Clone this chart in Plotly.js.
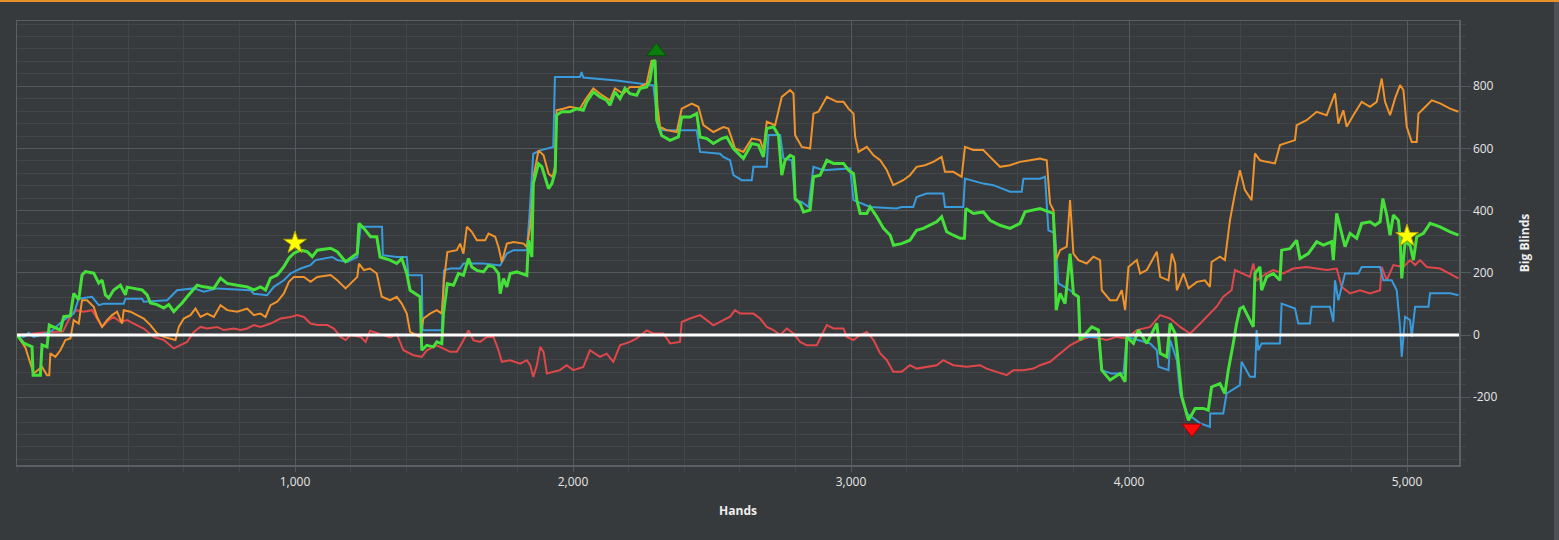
<!DOCTYPE html>
<html>
<head>
<meta charset="utf-8">
<script src="https://cdn.plot.ly/plotly-3.0.1.min.js"></script>
<style>
html,body{margin:0;padding:0;background:#363a3d;}
#chart{width:1559px;height:540px;}
</style>
</head>
<body>
<div id="chart"></div>
<script>
// ---- data (hands, big blinds) ----
const greenX = [0,24,54,58,84,90,108,116,156,168,192,204,222,234,246,276,294,306,318,330,348,372,390,396,420,450,468,480,504,528,546,564,576,594,612,636,648,672,708,732,756,792,828,852,876,894,912,936,960,978,996,1020,1044,1062,1080,1128,1152,1182,1224,1230,1248,1272,
1294,1306,1342,1366,1384,1402,1414,1450,1456,1474,1498,1510,1528,1534,1548,1570,1588,1606,1624,1636,1654,1678,1696,1714,1732,1738,1750,1762,1774,1798,1834,1840,1852,1857,1870,1876,1888,1900,1912,1924,1936,1941,1959,1989,2013,2037,2049,2073,2097,2121,2133,2151,2169,2187,2205,2229,2241,2265,2277,2287,2295,2301,2319,2349,2379,2391,2421,2445,2457,2481,2505,2535,
2553,2577,2613,2643,2667,2685,2697,2721,2739,2751,2763,2781,2793,2799,2817,2829,2853,2865,2889,2913,2937,2973,2991,3009,3021,3033,3057,3069,3093,3117,3141,3153,3182,3212,3236,3260,3284,3308,3326,3344,3368,3392,3408,3413,3440,3476,3500,3536,3572,3608,3626,3656,3680,
3728,3734,3738,3752,3770,3788,3800,3818,3824,3866,3890,3902,3932,3968,3986,3992,4016,4034,4064,4100,4112,4136,4148,4166,4178,4190,4214,4238,4268,4285,4297,4327,4345,4357,4375,4387,4399,4411,4423,4447,4453,4471,4477,4495,4519,4543,4549,4579,4603,4615,4645,4675,4699,4729,4735,4747,4765,4777,4795,4819,4837,4867,4885,4903,4913,4927,4939,4951,4969,4975,4981,4993,5011,5023,5035,5059,5083,5119,5155,5185];
const greenY = [0,-26,-38,-129,-129,-32,-38,32,16,59,62,134,113,193,204,199,167,177,129,119,145,160,129,154,150,145,129,103,98,87,98,75,87,103,123,150,160,155,150,183,166,160,155,145,155,145,183,193,220,247,263,273,268,252,273,279,268,236,263,359,343,316,
316,251,241,230,246,198,144,123,-49,-33,-38,-22,-28,69,165,160,198,192,246,219,208,203,224,219,198,133,182,155,198,203,192,305,251,487,530,551,541,508,471,487,525,707,718,718,728,723,750,782,766,755,739,782,760,793,776,771,793,798,819,878,884,691,642,626,637,701,701,712,637,632,616,632,
637,600,568,616,611,573,664,670,643,514,562,578,573,439,423,396,402,509,514,562,552,552,530,519,434,391,391,412,380,343,321,289,294,305,337,343,353,364,380,332,321,311,311,407,391,396,369,353,343,359,396,402,407,
391,252,80,134,101,262,134,123,-16,26,16,-113,-145,-124,-150,-6,-27,16,-27,37,-59,-70,37,5,-92,-199,-274,-236,-236,-242,-167,-156,-188,-113,-27,37,85,91,69,26,198,219,144,187,198,176,273,278,305,246,262,300,289,300,241,391,327,284,327,311,359,364,353,364,439,386,321,386,369,316,182,300,289,241,316,327,359,348,332,321];

const blueX = [0,24,42,60,84,120,168,204,222,270,294,312,384,390,450,456,540,576,636,672,720,840,852,900,924,960,984,1020,1056,1074,1134,1152,1188,1224,1236,1272,
1313,1316,1366,1402,1408,1456,1459,1528,1536,1558,1594,1606,1678,1738,1762,1786,1834,1843,1857,1882,1929,1935,2025,2031,2037,2157,2229,2289,2307,2325,2445,2457,2529,2541,2565,
2577,2607,2643,2649,2697,2703,2745,2757,2787,2799,2823,2847,2865,2901,2997,3009,3069,3164,3182,3224,3236,3272,3332,3338,3404,3410,3476,3512,3572,3614,3620,3680,
3698,3710,3734,3746,3788,3818,3824,3890,3902,3938,3980,3992,4076,4100,4106,4142,4148,4172,4184,4208,4256,4291,4292,4339,4351,4399,4405,4435,4453,4459,4465,4477,4543,4549,4597,4609,4651,4657,4723,4735,4741,4753,4777,4825,4837,4903,4915,4945,4963,4975,4981,4993,5011,5017,5029,5077,5083,5155,5185];
const blueY = [0,-6,7,-6,0,10,48,69,117,123,96,101,101,117,117,107,112,144,150,139,150,144,133,128,155,176,198,214,225,241,251,241,235,251,348,348,
348,257,251,251,192,192,15,15,208,214,214,230,230,224,262,273,273,380,583,594,605,830,830,846,828,819,809,803,669,659,659,589,583,573,562,
514,498,498,541,541,643,643,568,562,434,428,412,541,530,536,434,412,407,412,412,444,455,455,412,412,503,487,482,461,461,503,503,
509,337,327,166,144,123,-6,-6,-113,-124,-124,-6,-27,-49,-102,-113,-16,-81,-188,-252,-284,-295,-252,-252,-188,-161,-86,-134,-134,16,-49,-27,-27,101,85,37,37,91,91,43,176,112,198,198,219,219,176,176,144,26,-70,59,48,-6,91,91,134,134,128];

const orangeX = [0,30,60,90,108,116,120,138,156,174,192,204,222,234,252,276,288,306,324,342,360,378,384,408,432,456,480,504,528,552,570,582,600,624,642,660,684,708,732,756,792,828,852,876,894,912,936,960,978,996,1032,1056,1080,1128,1152,1182,1200,1224,1230,1248,
1270,1294,1312,1342,1366,1384,1402,1414,1450,1462,1486,1510,1528,1536,1548,1582,1594,1606,1618,1636,1654,1684,1696,1720,1732,1744,1762,1786,1822,1834,1846,1860,1876,1894,1912,1927,1935,1941,1965,1989,2025,2043,2073,2097,2133,2151,2181,2205,2241,2265,2283,2295,2304,2313,2337,2373,2391,2427,2451,2469,2505,2541,
2559,2583,2613,2643,2673,2685,2697,2727,2751,2781,2793,2799,2823,2853,2865,2883,2913,2949,2973,2991,3009,3015,3027,3057,3081,3105,3129,3152,3188,3212,3236,3266,3296,3326,3338,3368,3398,3410,3440,3476,3500,3536,3572,3608,3644,3680,
3704,3716,3728,3738,3752,3776,3788,3800,3818,3848,3872,3896,3902,3932,3956,3974,3986,3998,4028,4040,4064,4100,4112,4142,4154,4166,4172,4196,4214,4244,4273,4291,4297,4327,4345,4363,4381,4399,4417,4441,4453,4471,4495,4525,4543,4597,4603,4639,4675,4711,4741,4753,4771,4783,4807,4837,4867,4891,4909,4921,4939,4957,4975,4987,4999,5017,5035,5041,5059,5089,5119,5155,5185];
const orangeY = [0,-40,-124,-102,-129,-129,-59,-70,-49,-16,-11,48,37,112,112,91,58,26,48,64,75,37,80,75,64,53,32,5,-6,-11,-16,26,53,64,85,58,69,58,96,80,75,85,64,69,58,96,107,134,171,187,187,171,187,193,176,150,166,187,230,209,
214,198,123,112,123,101,69,10,-6,53,69,80,69,176,267,273,294,262,348,332,305,305,326,316,283,235,294,299,294,283,348,519,594,578,519,508,541,723,728,734,728,755,793,776,755,793,776,798,798,809,884,873,734,669,659,653,728,744,734,675,653,669,
664,600,589,632,627,595,686,675,766,788,777,643,605,600,712,718,766,750,750,728,712,637,589,605,578,562,530,482,498,514,541,546,557,573,525,525,509,605,595,595,573,541,546,557,562,568,
562,423,402,241,273,284,434,262,241,230,252,241,144,112,112,144,80,219,241,198,209,268,187,176,262,230,144,198,150,171,176,155,235,252,241,369,455,530,466,434,584,562,557,552,611,627,675,691,718,707,777,680,723,670,707,750,734,750,825,750,707,761,804,788,670,621,621,712,728,755,745,728,718];

const redX = [0,60,120,165,198,216,240,270,288,306,330,348,372,396,420,456,492,528,564,588,612,636,660,684,720,744,780,804,828,852,876,912,948,984,1008,1032,1056,1080,1116,1140,1164,1182,1200,1236,1254,
1270,1306,1342,1366,1390,1426,1456,1474,1510,1558,1582,1606,1624,1642,1666,1690,1714,1732,1744,1774,1810,1834,1846,1857,1870,1882,1894,1906,1929,1953,1977,2001,2037,2061,2097,2121,2145,2169,2205,2229,2265,2289,2325,2349,2385,2391,2421,2457,2481,2505,
2529,2565,2583,2601,2649,2673,2697,2721,2745,2769,2793,2817,2841,2877,2895,2913,2937,2973,2985,3009,3033,3057,3081,3105,3129,3152,3182,3212,3236,3272,3308,3332,3368,3416,3464,3488,3524,3560,3584,3620,3656,3680,
3716,3752,3788,3824,3860,3896,3920,3956,3992,4028,4076,4112,4148,4184,4220,4256,4291,4315,4339,4369,4381,4411,4435,4447,4459,4495,4519,4555,4591,4639,4675,4711,4747,4765,4795,4831,4867,4903,4909,4927,4951,4987,5011,5029,5047,5071,5119,5155,5185];
const redY = [0,5,10,11,69,80,75,80,53,26,48,58,42,48,37,21,-6,-16,-43,-33,-22,10,26,21,26,16,21,16,21,32,26,37,53,58,64,58,37,32,32,21,-6,-16,0,-6,-22,
14,3,-8,3,-49,-65,-70,-49,-33,-54,-54,-17,15,-17,-22,-6,-6,-49,-86,-81,-92,-81,-97,-135,-97,-38,-54,-124,-119,-113,-97,-113,-103,-49,-70,-60,-86,-33,-22,-11,15,5,5,-27,-22,42,53,64,48,31,
42,59,80,69,69,53,26,16,0,21,5,-22,-33,-33,0,32,21,21,-6,-16,0,10,-16,-59,-81,-118,-118,-97,-108,-102,-97,-81,-97,-102,-97,-108,-118,-129,-113,-113,-108,-97,
-86,-59,-33,-16,-6,-11,-16,-6,-11,16,26,64,53,26,5,37,69,91,123,144,209,198,187,230,176,198,209,198,214,219,214,209,214,155,134,144,134,144,219,176,225,219,241,225,241,219,214,198,182];

// markers
const starX = [1000, 5000];
const starY = [296, 318];
const highX = [2300];
const highY = [912];
const lowX = [4226];
const lowY = [-300];

// axis ticks
const xTickVals = [1000, 2000, 3000, 4000, 5000];
const xTickText = ['1,000', '2,000', '3,000', '4,000', '5,000'];
const yTickVals = [-200, 0, 200, 400, 600, 800];
const yTickText = ['-200', '0', '200', '400', '600', '800'];

const BG = '#363a3d';
const traces = [
  {x: redX, y: redY, type: 'scatter', mode: 'lines', line: {color: '#e0474a', width: 2}, hoverinfo: 'skip'},
  {x: blueX, y: blueY, type: 'scatter', mode: 'lines', line: {color: '#3a9bdc', width: 2}, hoverinfo: 'skip'},
  {x: orangeX, y: orangeY, type: 'scatter', mode: 'lines', line: {color: '#f0932b', width: 2}, hoverinfo: 'skip'},
  {x: greenX, y: greenY, type: 'scatter', mode: 'lines', line: {color: '#45e03a', width: 3}, hoverinfo: 'skip'},
  {x: starX, y: starY, type: 'scatter', mode: 'markers', marker: {symbol: 'star', size: 17, color: '#ffff00', line: {color: '#b8a800', width: 1}}, hoverinfo: 'skip'},
  {x: highX, y: highY, type: 'scatter', mode: 'markers', marker: {symbol: 'triangle-up', size: 17, color: '#0b7d0b', line: {color: '#064d06', width: 1}}, hoverinfo: 'skip'},
  {x: lowX, y: lowY, type: 'scatter', mode: 'markers', marker: {symbol: 'triangle-down', size: 17, color: '#ff0a0a', line: {color: '#9a0000', width: 1}}, hoverinfo: 'skip'}
];

const W = 1559, H = 540, L = 17, R = 100, T = 21, B = 75;
const pw = W - L - R, ph = H - T - B;
const px = v => (v - L) / pw;
const py = v => (H - B - v) / ph;

const layout = {
  width: W, height: H,
  margin: {l: L, r: R, t: T, b: B, pad: 0},
  paper_bgcolor: BG,
  plot_bgcolor: BG,
  showlegend: false,
  font: {family: '"Open Sans", "Noto Sans", sans-serif', color: '#e6e6e6', size: 12},
  xaxis: {
    range: [0, 5187],
    tickvals: xTickVals, ticktext: xTickText,
    showgrid: true, gridcolor: '#55595d', gridwidth: 1,
    zeroline: false,
    showline: true, linecolor: '#5c6064', linewidth: 1.5, mirror: true,
    ticks: 'outside', ticklen: 5, tickcolor: '#55595d',
    tickfont: {size: 12, color: '#e6e6e6'},
    minor: {dtick: 200, tick0: 0, showgrid: true, gridcolor: '#424649', gridwidth: 1, ticks: 'outside', ticklen: 5, tickcolor: '#424649'},
    title: {text: '<b>Hands</b>', font: {size: 12, color: '#eeeeee'}, standoff: 17}
  },
  yaxis: {
    range: [-418, 1010],
    side: 'right',
    tickvals: yTickVals, ticktext: yTickText,
    showgrid: true, gridcolor: '#55595d', gridwidth: 1,
    zeroline: false,
    showline: true, linecolor: '#5c6064', linewidth: 1.5, mirror: true,
    ticks: 'outside', ticklen: 10, tickcolor: '#55595d',
    tickfont: {size: 12, color: '#e6e6e6'},
    minor: {dtick: 40, tick0: 0, showgrid: true, gridcolor: '#424649', gridwidth: 1, ticks: 'outside', ticklen: 5, tickcolor: '#424649'},
    title: {text: '<b>Big Blinds</b>', font: {size: 12, color: '#eeeeee'}, standoff: 24}
  },
  shapes: [
    {type: 'line', xref: 'paper', yref: 'y', x0: 0, x1: 1, y0: 0, y1: 0, line: {color: '#ffffff', width: 3}, layer: 'above'},
    {type: 'rect', xref: 'paper', yref: 'paper', x0: px(0), x1: px(W), y0: py(0), y1: py(2), fillcolor: '#e8912a', line: {width: 0}},
    {type: 'rect', xref: 'paper', yref: 'paper', x0: px(1554), x1: px(W), y0: py(H), y1: py(2), fillcolor: '#4d5155', line: {width: 0}}
  ]
};

Plotly.newPlot('chart', traces, layout, {staticPlot: true, displayModeBar: false});
</script>
</body>
</html>
